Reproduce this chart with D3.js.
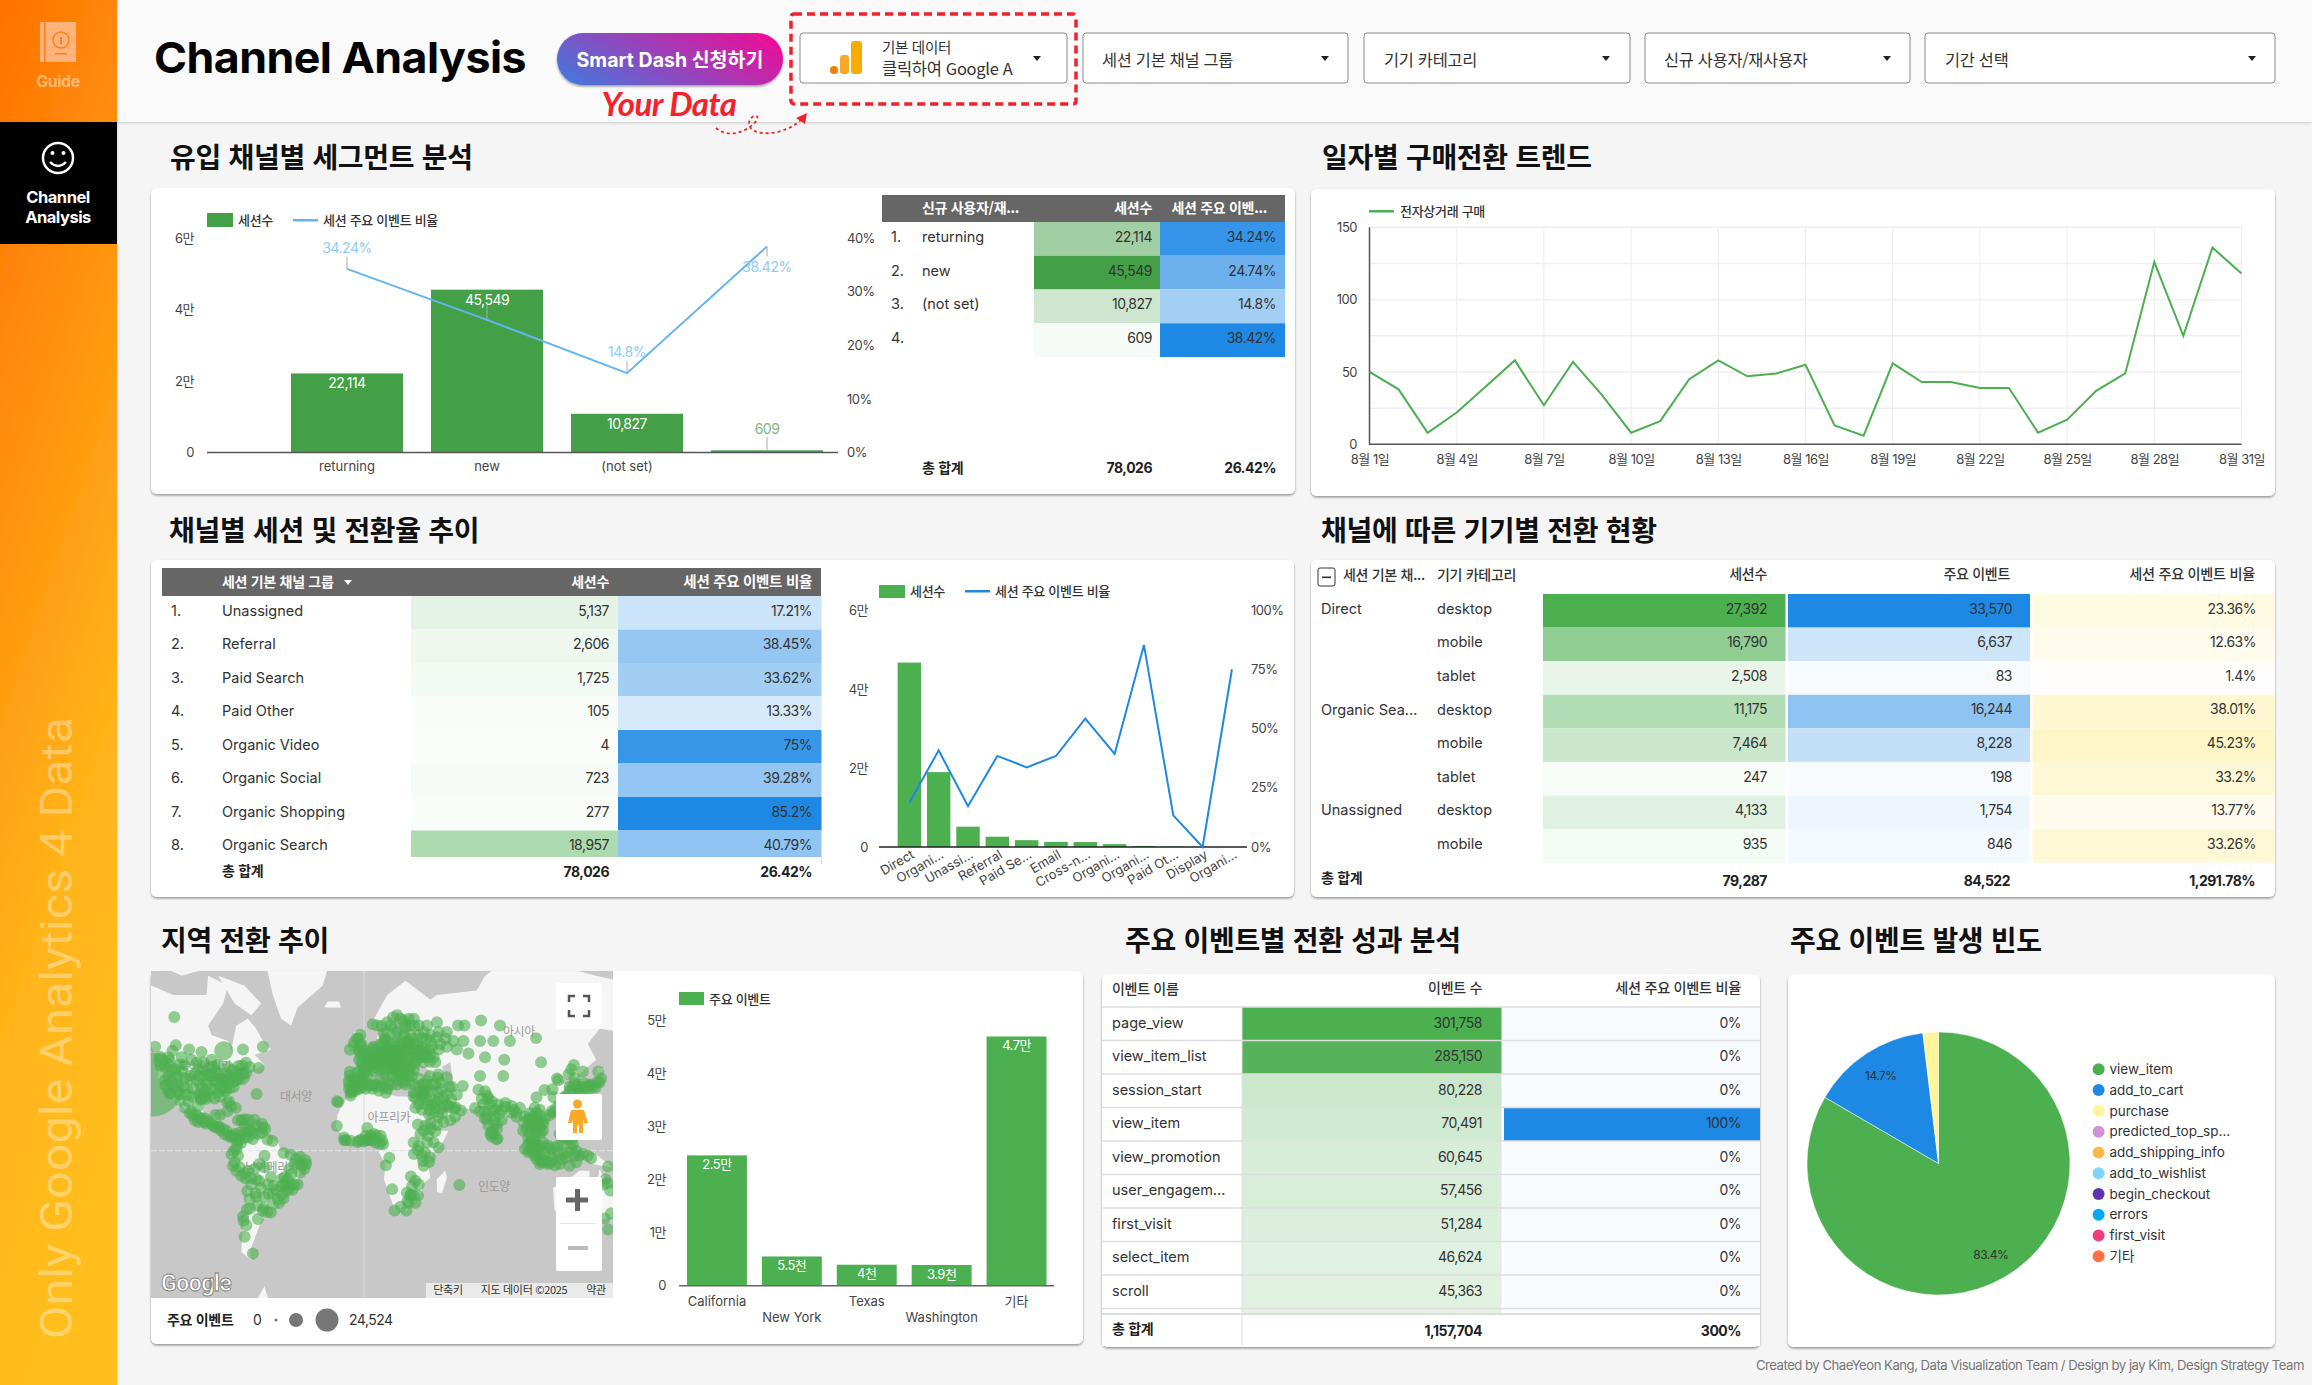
<!DOCTYPE html>
<html lang="ko">
<head>
<meta charset="utf-8">
<title>Channel Analysis</title>
<script src="https://cdn.jsdelivr.net/npm/d3@7"></script>
<style>
  html, body { margin: 0; padding: 0; background: #f5f5f5; overflow: hidden; }
  svg { display: block; }
  text { font-family: Inter, "Noto Sans CJK KR", sans-serif; fill: #333; letter-spacing: -0.5px; }
  .kr { font-family: "Noto Sans CJK KR", sans-serif; letter-spacing: -0.3px; }
  .wide { letter-spacing: 0; }
</style>
</head>
<body>
<div id="chart"></div>
<script>
// ---- data ----
const segmentNames = ['returning', 'new', '(not set)', '']
const segmentSessions = [22114, 45549, 10827, 609]
const segmentRates = [34.24, 24.74, 14.8, 38.42]
const segmentSessionLabels = ['22,114', '45,549', '10,827', '609']
const segmentRateLabels = ['34.24%', '24.74%', '14.8%', '38.42%']
const segmentTotals = ['78,026', '26.42%']

const dayLabels = ['8월 1일', '8월 4일', '8월 7일', '8월 10일', '8월 13일', '8월 16일', '8월 19일', '8월 22일', '8월 25일', '8월 28일', '8월 31일']
const dailyPurchases = [50, 38, 8, 22, 40, 58, 27, 57, 34, 8, 16, 45, 58, 47, 49, 55, 13, 6, 56, 43, 43, 39, 39, 8, 17, 37, 49, 126, 75, 136, 118]

const channelNames = ['Unassigned', 'Referral', 'Paid Search', 'Paid Other', 'Organic Video', 'Organic Social', 'Organic Shopping', 'Organic Search']
const channelSessions = [5137, 2606, 1725, 105, 4, 723, 277, 18957]
const channelRates = [17.21, 38.45, 33.62, 13.33, 75, 39.28, 85.2, 40.79]
const channelSessionLabels = ['5,137', '2,606', '1,725', '105', '4', '723', '277', '18,957']
const channelRateLabels = ['17.21%', '38.45%', '33.62%', '13.33%', '75%', '39.28%', '85.2%', '40.79%']
const channelTotals = ['78,026', '26.42%']

const comboLabels = ['Direct', 'Organi...', 'Unassi...', 'Referral', 'Paid Se...', 'Email', 'Cross-n...', 'Organi...', 'Organi...', 'Paid Ot...', 'Display', 'Organi...']
const comboSessions = [46690, 18957, 5137, 2606, 1725, 1300, 1250, 723, 277, 105, 10, 4]
const comboRates = [18.7, 40.79, 17.21, 38.45, 33.62, 38.4, 54.2, 39.28, 85.2, 13.33, 0, 75]

const deviceGroups = ['Direct', '', '', 'Organic Sea...', '', '', 'Unassigned', '']
const deviceNames = ['desktop', 'mobile', 'tablet', 'desktop', 'mobile', 'tablet', 'desktop', 'mobile']
const deviceSessions = [27392, 16790, 2508, 11175, 7464, 247, 4133, 935]
const deviceEvents = [33570, 6637, 83, 16244, 8228, 198, 1754, 846]
const deviceRates = [23.36, 12.63, 1.4, 38.01, 45.23, 33.2, 13.77, 33.26]
const deviceSessionLabels = ['27,392', '16,790', '2,508', '11,175', '7,464', '247', '4,133', '935']
const deviceEventLabels = ['33,570', '6,637', '83', '16,244', '8,228', '198', '1,754', '846']
const deviceRateLabels = ['23.36%', '12.63%', '1.4%', '38.01%', '45.23%', '33.2%', '13.77%', '33.26%']
const deviceTotals = ['79,287', '84,522', '1,291.78%']

const regionNames = ['California', 'New York', 'Texas', 'Washington', '기타']
const regionEvents = [24524, 5500, 3950, 3900, 46900]
const regionLabels = ['2.5만', '5.5천', '4천', '3.9천', '4.7만']

const eventNames = ['page_view', 'view_item_list', 'session_start', 'view_item', 'view_promotion', 'user_engagem...', 'first_visit', 'select_item', 'scroll', '']
const eventCounts = [301758, 285150, 80228, 70491, 60645, 57456, 51284, 46624, 45363, 41000]
const eventRates = [0, 0, 0, 100, 0, 0, 0, 0, 0, 0]
const eventCountLabels = ['301,758', '285,150', '80,228', '70,491', '60,645', '57,456', '51,284', '46,624', '45,363', '']
const eventRateLabels = ['0%', '0%', '0%', '100%', '0%', '0%', '0%', '0%', '0%', '']
const eventTotals = ['1,157,704', '300%']

const pieShares = [83.4, 14.7, 1.9]
const pieLabels = ['83.4%', '14.7%', '']
const pieLegend = ['view_item', 'add_to_cart', 'purchase', 'predicted_top_sp...', 'add_shipping_info', 'add_to_wishlist', 'begin_checkout', 'errors', 'first_visit', '기타']
const pieColors = ['#4caf50', '#1e88e5', '#fff59d', '#ce93d8', '#ffb74d', '#81d4fa', '#5e35b1', '#03a9f4', '#ec407a', '#ff7043']

// map: cities with their own size, then everything else at the usual size
const bigCities = [[-128, 37, 24524], [-84.6, 51.5, 2200], [-74, 40.7, 1800], [-97.5, 31, 1500], [-122.3, 47.6, 1500]]
const citiesAmericas = [[-114.4, 62.5], [-126, 53], [-115.5, 51.5], [-105.5, 52], [-98, 51], [-73, 52], [-61, 53],
  [-117.2, 47.7], [-116.2, 43.6], [-111.9, 40.8], [-115.1, 36.2], [-112, 33.4], [-110.9, 32.2], [-106.6, 35.1], [-105, 39.7], [-104.8, 41.1], [-108.5, 45.8], [-100.8, 46.8], [-96.8, 46.9], [-96.7, 43.5], [-96, 41.3], [-97.5, 35.5], [-97.7, 30.3], [-96.8, 32.8], [-95.4, 29.8], [-98.5, 29.4], [-90, 35.1], [-90.2, 38.6], [-93.3, 45], [-94.6, 39.1], [-87.6, 41.9], [-86.2, 39.8], [-83, 40], [-83, 42.3], [-84.4, 33.7], [-81.7, 41.5], [-80, 40.4], [-80.8, 35.2], [-78.6, 35.8], [-77, 38.9], [-75.2, 39.9], [-71.1, 42.4], [-79.4, 43.7], [-75.7, 45.4], [-73.6, 45.5], [-71.2, 46.8], [-63.6, 44.6], [-81.4, 28.5], [-80.2, 25.8], [-82.5, 27.9], [-90.1, 30], [-86.8, 36.2], [-85.8, 38.2], [-84.5, 39.1], [-118.2, 34], [-117.1, 32.7], [-119.8, 36.7], [-120, 39], [-122.7, 45.5], [-123, 49.2], [-113.5, 53.5], [-101, 39], [-103, 35], [-100, 32], [-92, 34.7], [-89, 43], [-88, 33],
  [-120, 45], [-118, 41], [-116, 39], [-114, 44], [-111, 46], [-110, 43], [-108, 40], [-109, 36], [-113, 37], [-107, 32], [-104, 31], [-102, 42], [-99, 41], [-99, 37], [-100, 44], [-95, 37], [-92, 41], [-90, 41], [-88, 39], [-91, 45], [-94, 42], [-85, 35], [-82, 38], [-79, 38], [-83, 34], [-87, 31], [-93, 31], [-95, 33], [-77, 41], [-73, 42], [-69, 45], [-76, 43], [-82, 45], [-88, 46], [-92, 48], [-104, 48], [-110, 49], [-118, 49],
  [-117, 32.5], [-110.9, 29], [-106, 28.6], [-100.3, 25.7], [-103.3, 20.7], [-99.1, 19.4], [-98.2, 19], [-96.1, 19.2], [-89.6, 21], [-86.8, 21.1], [-92, 16], [-90.5, 14.6], [-89.2, 13.7], [-87.2, 14.1], [-86.3, 12.1], [-84.1, 9.9], [-79.5, 9], [-76, 18], [-82.4, 23.1], [-77.3, 25], [-69.9, 18.5], [-66.1, 18.4], [-72.3, 18.6], [-61.5, 16], [-61, 14], [-59.6, 13.1], [-61.5, 10.6], [-68, 12.2], [-70, 12.5], [-64.8, 32.3], [-104, 23], [-101, 21], [-97, 17], [-94, 17.5], [-72, 15], [-65, 15], [-74, 18], [-78, 10], [-83, 12],
  [-108, 25], [-105, 22], [-102, 18], [-100, 17], [-95, 16], [-91, 15], [-88, 14.5], [-85, 13], [-82, 9], [-80, 8], [-77, 7], [-75, 9], [-72, 8], [-70, 8], [-67, 7], [-64, 10],
  [-74.1, 4.7], [-75.6, 6.2], [-76.5, 3.4], [-74.8, 10.9], [-66.9, 10.5], [-71.6, 10.6], [-78.5, -0.2], [-79.9, -2.2], [-77, -12], [-71.5, -16.4], [-72, -13.5], [-68.1, -16.5], [-63.2, -17.8], [-58.2, 6.8], [-55.2, 5.8], [-60, -3.1], [-48.5, -1.4], [-44.3, -2.5], [-38.5, -3.7], [-35.2, -5.8], [-34.9, -8], [-38.5, -13], [-49.3, -16.7], [-47.9, -15.8], [-43.9, -19.9], [-43.2, -22.9], [-46.6, -23.5], [-49.3, -25.4], [-48.5, -27.6], [-51.2, -30], [-54.6, -20.5], [-56.1, -15.6], [-57.6, -25.3], [-64.2, -31.4], [-58.4, -34.6], [-56.2, -34.9], [-68.8, -32.9], [-70.6, -33.4], [-73, -36.8], [-72.6, -38.7], [-65.2, -26.8], [-65.4, -24.8], [-70.4, -23.6], [-60.7, -32.9], [-67, -52.6], [-41, -5], [-39, -7.6], [-37, -9], [-36, -11], [-42, -8], [-45, -11], [-40, -20], [-60, -27],
  [-77, 1], [-76, -3], [-78, -7], [-79, -9], [-75, -10], [-74, -15], [-70, -12], [-66, -11], [-68, -20], [-62, -22], [-65, -17], [-58, -20], [-55, -25], [-53, -23], [-50, -21], [-48, -20], [-46, -17], [-44, -14], [-52, -28], [-47, -21], [-45, -22], [-42, -20], [-55, -31], [-61, -34], [-64, -38], [-71, -41], [-72, -46], [-69, -28], [-60, -10], [-63, -8]]
const citiesEurope = [[-6.3, 53.3], [-8.5, 51.9], [-5.9, 54.6], [-3.2, 55.9], [-4.3, 55.9], [-2.2, 57.1], [-1.5, 53.8], [-2.2, 53.5], [-1.9, 52.5], [-0.1, 51.5], [-3.2, 51.5], [-2.6, 51.5],
  [5.3, 60.4], [10.7, 59.9], [18.1, 59.3], [12, 57.7], [13, 55.6], [12.6, 55.7], [24.9, 60.2], [23.8, 61.5], [17.6, 62.4], [14, 61], [20, 63], [27, 62], [30, 62],
  [2.35, 48.85], [4.8, 45.8], [5.4, 43.3], [-1.6, 47.2], [-0.6, 44.8], [1.4, 43.6], [7.3, 47.7], [3, 50.6], [7.7, 48.6], [4.35, 50.85], [4.9, 52.4], [6.1, 49.6], [8.5, 47.4], [6.1, 46.2], [7.6, 47.6],
  [13.4, 52.5], [10, 53.6], [8.7, 50.1], [11.6, 48.1], [6.8, 51.2], [9.2, 48.8], [12.4, 51.3], [14.4, 50.1], [16.4, 48.2], [19, 47.5], [21, 52.2], [19.9, 50.1], [17, 51.1], [18.6, 54.4], [24.1, 56.9], [25.3, 54.7], [24.8, 59.4], [27.6, 53.9], [30.5, 50.4], [36.2, 50], [34.8, 50.9], [30.7, 46.5], [28.8, 47], [26.1, 44.4], [23.3, 42.7], [20.5, 44.8], [18.4, 43.9], [16, 45.8], [14.5, 46.1], [19.8, 41.3], [21.4, 42], [22.9, 40.6], [23.7, 38], [12.5, 41.9], [9.2, 45.5], [11.3, 43.8], [14.3, 40.9], [16.9, 41.1], [15.1, 37.5], [9.1, 39.2], [-3.7, 40.4], [2.2, 41.4], [-0.4, 39.5], [-6, 37.4], [-4.4, 36.7], [-8.6, 41.1], [-9.1, 38.7], [-8.5, 42.9], [-3, 43.3], [-1, 41.6],
  [37.6, 55.8], [30.3, 59.9], [49.1, 55.8], [44, 56.3], [39.7, 47.2], [39.2, 51.7], [33, 57], [28, 57], [41, 53], [45, 52], [50, 53], [35, 53], [26, 52], [22, 49], [25, 47], [28, 50], [32, 48], [36, 47], [43, 47], [12, 50], [15, 53], [20, 56], [23, 53], [8, 52], [10, 51], [5, 47], [2, 46], [0, 42], [17, 45], [20, 43], [24, 45], [27, 42],
  [-7, 40], [-5, 42], [-2, 39], [-6, 39], [1, 44], [3, 45], [-1, 46], [1, 48], [5, 49], [3, 48], [-3, 48], [-2, 50], [0, 50], [7, 50], [9, 49], [11, 46], [13, 44], [15, 47], [12, 47], [18, 49], [20, 50], [22, 51], [24, 50], [26, 48], [29, 49], [31, 52], [33, 50], [35, 49], [37, 52], [38, 49], [40, 50], [42, 49], [21, 47], [22, 45], [19, 46], [25, 43], [28, 45], [30, 44], [24, 41], [26, 41], [21, 39], [17, 47], [16, 50], [18, 52], [14, 55], [20, 58], [24, 57], [27, 55], [30, 56], [36, 58], [40, 57], [45, 58], [50, 58], [30, 54], [35, 56], [40, 55], [46, 54], [54, 55], [56, 52], [60, 55], [14, 58], [16, 60], [8, 60], [22, 62], [28, 60], [33, 60], [38, 60], [44, 61],
  [10, 54], [12, 54], [14, 51], [16, 52], [18, 50], [20, 53], [22, 54], [24, 52], [26, 54], [28, 54], [30, 52], [32, 54], [34, 52], [6, 53], [8, 49], [10, 48], [13, 49], [15, 49], [17, 49], [19, 51], [21, 50], [23, 48], [7, 45], [9, 44], [13, 46], [18, 45], [21, 44], [-4, 37.5], [-2, 37], [0, 37], [3, 37], [5, 36.5], [8, 36], [12, 36], [14, 35], [17, 37], [20, 37], [25, 37], [-9, 37], [-7, 36], [-5, 35.5], [-3, 35], [1, 35], [5, 35], [9, 34], [-9, 35], [-8, 33]]
const citiesAsiaMiddleEast = [[56.7, 60], [60.6, 60], [70.6, 61.5], [82, 60], [103.8, 56], [88, 55], [78, 55], [70, 55], [63, 50.5], [84.6, 48], [106.8, 47], [70, 41], [84, 41], [73, 49],
  [28.9, 41], [32.9, 39.9], [27.1, 38.4], [30.7, 36.9], [35.3, 37], [39.7, 41], [44.8, 41.7], [49.9, 40.4], [44.5, 40.2], [51.4, 35.7], [46.3, 38.1], [52.5, 29.6], [59.6, 36.3], [44.4, 33.3], [47.8, 30.5], [36.3, 33.5], [35.5, 33.9], [34.8, 32.1], [35.9, 31.9], [46.7, 24.7], [39.2, 21.5], [50.6, 26.2], [51.5, 25.3], [54.4, 24.5], [55.3, 25.2], [58.4, 23.6], [44.2, 15.4], [41, 37], [38, 39], [42, 29], [45, 20], [48, 17], [52, 18], [40, 16],
  [33, 36], [37, 37], [43, 37], [47, 35], [50, 32], [53, 36], [56, 32], [48, 26], [43, 25], [40, 24], [37, 27], [55, 20], [33, 27], [31, 25], [45, 30], [38, 33], [41, 34], [30, 33], [35, 30], [38, 29], [41, 27], [44, 28], [47, 22], [35, 24], [42, 22],
  [67, 24.9], [74.3, 31.5], [73, 33.7], [77.2, 28.6], [75.8, 26.9], [72.6, 23], [72.9, 19.1], [73.9, 18.5], [78.5, 17.4], [77.6, 13], [80.3, 13.1], [76.9, 11], [76.3, 10], [76.9, 8.5], [81.6, 21.3], [77.4, 23.3], [80.9, 26.8], [85.1, 25.6], [88.4, 22.6], [85.3, 27.7], [90.4, 23.8], [91.8, 22.3], [79.9, 6.9], [80.6, 7.3], [69, 34.5], [71, 30], [79, 20], [75, 15],
  [92, 20], [94, 25], [89, 26], [83, 24], [83, 18], [80, 16], [78, 10], [74, 21], [70, 23], [72, 27], [75, 30], [79, 24],
  [96.2, 16.8], [100.5, 13.8], [98.9, 18.8], [102.6, 18], [104.9, 11.6], [105.8, 21], [108.2, 16], [106.7, 10.8], [101.7, 3.1], [100.3, 5.4], [103.8, 1.35], [110.3, 1.5], [98.7, 3.6], [104.8, -2.9], [106.8, -6.2], [107.6, -6.9], [110.4, -7], [112.7, -7.3], [115.2, -8.7], [116.8, -1.2], [119.4, -5.1], [125, 1.5], [120.9, 14.6], [121, 16], [123.9, 10.3], [125.6, 7.1], [114.2, 22.3], [113.3, 23.1], [121.5, 25], [99, 8], [102, 15], [104, 18], [106, 14], [100, 0], [102, -1], [113, -3], [115, 2], [118, -8], [122, -4], [124, -9], [137, -4.5], [130, -3], [128, 0], [103, 9], [108, 12], [111, 3],
  [97, 20], [96, 12], [99, 15], [101, 17], [104, 14], [107, 17], [109, 19], [112, 21], [116, 25], [118, 27], [101, 7], [103, 4], [106, 3], [109, -1], [104, -5], [106, -3], [109, -6], [113, 1], [117, 3], [120, -2], [123, -1], [119, 5], [121, 8], [118, 10], [123, 7], [126, 4], [127, -3], [132, -2], [135, -3], [128, -7], [111, -8], [114, -5], [97, 1], [99, -1],
  [100, 22], [103, 25], [106, 24], [102, 20], [105, 16], [100, 11], [103, 6], [105, 1], [101, 2], [103, -3], [106, -8], [108, 5], [100, 19], [98, 13], [104, 22],
  [121.5, 31.2], [116.4, 39.9], [126.9, 37.5], [129, 35.2], [139.7, 35.7], [135.5, 34.7], [130.4, 33.6], [141.3, 43], [114.3, 30.6], [104, 30.6], [108.9, 34.3], [113.6, 34.7], [120.2, 30.3], [117.2, 39.1], [123.4, 41.8], [126.6, 45.8], [132, 43], [127, 40], [137, 37], [140.9, 38.3], [133, 34.5], [125, 44],
  [124, 36], [126, 35], [128, 36.5], [131, 36], [134, 36], [136, 36.5], [138, 36], [142, 38], [143, 40], [133, 37.5], [124, 34]]
const citiesAfricaOceania = [[-7.6, 33.6], [-5, 34], [-6.8, 34], [-8, 31.6], [3, 36.7], [10.2, 36.8], [13.2, 32.9], [-1, 35.7], [7, 36.9], [-15.4, 28.1], [-16.3, 28.5], [-16.4, 14.7], [-11.8, 6.3], [-10.8, 6.3], [-8, 6], [-4, 5.3], [-3, 6], [-1.6, 6.7], [-0.2, 5.6], [1.2, 6.1], [2.4, 6.4], [3.4, 6.5], [3.9, 7.4], [5.6, 6.3], [7, 4.8], [7.5, 9.1], [9.7, 4], [11.5, 3.9], [2, 13.5], [13.2, -8.8], [15.3, -4.3], [28.3, -15.4], [31, -17.8], [32.6, -26], [28, -26.2], [28.2, -25.7], [31, -29.9], [18.4, -33.9], [25.6, -34], [26.2, -29.1], [17, -22.6], [25.9, -24.6], [57.5, -20.2], [31.2, 30], [29.9, 31.2], [32.5, 15.6], [38.7, 9], [45, 2], [36.8, -1.3], [39.7, -4], [32.6, 0.3], [30.1, -2], [39.3, -6.8], [35.7, -6.2], [43, 11.6], [40, 13], [37, 15], [42, 5], [34, 10], [30, 5], [33, 3],
  [6, 10], [10, 9], [1, 9], [4, 9], [11, 6], [-12, 8], [36, 12], [38, 5], [35, -3], [36, -9], [33, -20], [29, -21], [30, -26], [27, -30], [22, -32],
  [147.2, -9.5], [145.8, -16.9], [146.8, -19.3], [149, -35.3], [145, -37.8], [147.3, -42.9], [148.5, -23.4], [144.5, -20]]

// map: rough land outlines [lon, lat], only for the grey and white background
const landOutlines = [
  [[-168, 66], [-156, 71], [-140, 70], [-128, 70], [-115, 68], [-95, 68], [-94, 72], [-82, 70], [-85, 66], [-94, 60], [-92, 57], [-82, 55], [-80, 51], [-79, 55], [-77, 60], [-70, 62], [-65, 59], [-60, 54], [-56, 52], [-66, 50], [-60, 46], [-66, 44], [-70, 43], [-74, 40], [-76, 36], [-81, 31], [-80, 25], [-82, 27], [-84, 30], [-90, 29], [-97, 27], [-97, 22], [-95, 18], [-91, 18], [-90, 21], [-87, 21], [-88, 16], [-83, 15], [-83, 10], [-79, 9], [-77, 8], [-80, 7], [-85, 10], [-92, 15], [-96, 16], [-105, 20], [-109, 25], [-113, 31], [-110, 23], [-115, 30], [-120, 34], [-124, 40], [-124, 48], [-130, 55], [-140, 60], [-150, 60], [-160, 58], [-165, 62]],
  [[-73, 78], [-60, 82], [-30, 83], [-20, 75], [-25, 70], [-40, 65], [-44, 60], [-50, 62], [-55, 68], [-60, 75]],
  [[-125, 74], [-100, 76], [-85, 80], [-65, 82], [-85, 74], [-110, 72]],
  [[-72, 70], [-62, 66], [-68, 63], [-78, 66], [-88, 72]],
  [[-78, 8], [-72, 12], [-62, 10.5], [-52, 5], [-50, 0], [-44, -2.5], [-35, -6], [-39, -14], [-41, -22], [-48, -26], [-53, -33], [-58, -35], [-62, -39], [-65, -45], [-69, -52], [-68, -55], [-74, -52], [-73, -40], [-71, -30], [-70, -18], [-76, -14], [-81, -5], [-80, 1], [-77, 4]],
  [[-6, 35.8], [10, 37], [11, 33], [20, 31], [32, 31], [35, 28], [37, 21], [43, 12], [51, 12], [47, 4], [40, -3], [39, -10], [40, -16], [35, -20], [35, -24], [32, -28], [26, -34], [19, -34.5], [15, -25], [12, -17], [13, -8], [9, -1], [9, 4], [4, 6], [-4, 5], [-8, 4.5], [-13, 9], [-17, 14], [-16, 21], [-13, 27], [-9, 32]],
  [[49, -12], [50, -16], [47, -25], [44, -24], [44, -17]],
  [[-9, 37], [-9, 43], [-1, 44], [-4, 48], [2, 51], [8, 54], [8, 57], [11, 54], [20, 54.5], [24, 59], [30, 60], [22, 60], [21, 64], [25, 66], [18, 62], [18, 59], [13, 55.5], [11, 59], [5, 59], [6, 62], [14, 68], [25, 71], [40, 67], [44, 68], [68, 69], [73, 72], [100, 77], [113, 74], [140, 72], [180, 69], [180, 65], [163, 60], [156, 51], [155, 58], [142, 59], [135, 54], [140, 48], [130, 42], [127, 39], [129, 35], [126, 34.5], [125, 39], [121, 40], [118, 38], [122, 37], [120, 32], [122, 29], [116, 23], [108, 21], [106, 18], [109, 12], [105, 9], [100, 13], [103, 2], [100, 6], [98, 10], [97, 16], [94, 16], [92, 21], [88, 22], [80, 15], [80, 10], [77, 8], [73, 17], [72, 21], [67, 24], [58, 25], [56, 27], [50, 30], [48, 30], [51, 25], [56, 25], [59, 22], [52, 16], [44, 12.5], [39, 21], [35, 28], [35, 36], [28, 36.5], [26, 39], [23, 37], [20, 40], [14, 45], [18, 40], [16, 38], [12, 42], [8, 44], [3, 42], [0, 39], [-2, 37], [-5, 36]],
  [[-5, 50], [1, 51], [1, 53], [-2, 56], [-3, 58.5], [-6, 58], [-5, 54], [-5, 52]],
  [[-10, 52], [-6, 52], [-6, 55], [-9, 55]],
  [[-24, 65], [-14, 65], [-15, 66.5], [-22, 66.5]],
  [[130, 31], [136, 34], [141, 36], [141, 41], [145, 44], [141, 45], [139, 38], [132, 35]],
  [[95, 5], [104, -2], [106, -6], [101, -3]],
  [[109, 1], [117, 7], [119, 1], [115, -4], [110, -3]],
  [[105, -6.5], [115, -8], [114, -8.8], [106, -7.5]],
  [[119, -5], [120, 1], [125, 1], [122, -4]],
  [[131, -1], [141, -3], [150, -10], [143, -9], [138, -8]],
  [[120, 18], [122, 18], [124, 12], [126, 7], [122, 7], [120, 14]],
  [[114, -22], [122, -18], [130, -12], [136, -12], [136, -16], [141, -17], [142, -11], [146, -18], [153, -26], [150, -37], [144, -38], [138, -35], [131, -32], [124, -33], [115, -34]],
  [[-70, -70], [-60, -63], [-55, -70]]
]
const inlandSeas = [
  [[28, 42], [28, 46], [33, 46], [37, 45], [41, 42], [36, 41], [31, 41]],
  [[50, 37], [49, 41], [47, 45], [52, 47], [53, 42], [54, 37]]
]
const mapPlaceNames = [['아시아', 519, 1032], ['대서양', 296, 1097], ['아프리카', 389, 1118], ['인도양', 494, 1187], ['남아메리카', 272, 1168], ['북아메리카', 205, 1067]]

// ---- page ----
const svg = d3.select('#chart').append('svg').attr('width', 2312).attr('height', 1385)
const defs = svg.append('defs')

const side = defs.append('linearGradient').attr('id', 'side').attr('x1', 0).attr('x2', 0.25).attr('y1', 0).attr('y2', 1)
side.append('stop').attr('offset', '0%').attr('stop-color', '#ff7100')
side.append('stop').attr('offset', '72%').attr('stop-color', '#ffb41a')
side.append('stop').attr('offset', '100%').attr('stop-color', '#ffbe1d')

const btn = defs.append('linearGradient').attr('id', 'btn').attr('x1', 0).attr('x2', 1).attr('y1', 0.7).attr('y2', 0.3)
btn.append('stop').attr('offset', '0%').attr('stop-color', '#4d72d9')
btn.append('stop').attr('offset', '100%').attr('stop-color', '#e8109a')

const shadow = defs.append('filter').attr('id', 'shadow').attr('x', '-5%').attr('y', '-5%').attr('width', '110%').attr('height', '112%')
shadow.append('feDropShadow').attr('dx', 0).attr('dy', 1.5).attr('stdDeviation', 1.2).attr('flood-color', '#000').attr('flood-opacity', 0.4)
const softShadow = defs.append('filter').attr('id', 'softShadow').attr('x', '-5%').attr('y', '-5%').attr('width', '110%').attr('height', '112%')
softShadow.append('feDropShadow').attr('dx', 0).attr('dy', 1).attr('stdDeviation', 1.5).attr('flood-color', '#000').attr('flood-opacity', 0.18)

defs.append('clipPath').attr('id', 'mapClip').append('rect').attr('x', 151).attr('y', 971).attr('width', 462).attr('height', 327)
defs.append('clipPath').attr('id', 'ddClip').append('rect').attr('x', 880).attr('y', 36).attr('width', 134).attr('height', 46)

function label(parent, x, y, s, opt) {
  opt = opt || {}
  return parent.append('text')
    .attr('x', x).attr('y', y)
    .attr('dy', '0.35em')
    .attr('text-anchor', opt.anchor || 'start')
    .attr('font-size', opt.size || 14)
    .attr('font-weight', opt.weight || 400)
    .style('fill', opt.fill || '#333')
    .text(s)
}

function card(x, y, w, h) {
  svg.append('rect').attr('x', x).attr('y', y).attr('width', w).attr('height', h)
    .attr('rx', 6).attr('fill', '#fff').attr('filter', 'url(#shadow)')
}

// white to color, with a small floor so even tiny cells get a tint
function shade(color, max) {
  const mix = d3.interpolateRgb('#ffffff', color)
  return v => mix(0.03 + 0.97 * v / max)
}

// one table column: filled cells and right aligned or left aligned text
function column(parent, rowScale, cfg) {
  const shift = cfg.shift === undefined ? -2 : cfg.shift
  if (cfg.fill) {
    parent.append('g').selectAll('rect').data(cfg.values).enter().append('rect')
      .attr('x', cfg.x).attr('width', cfg.w)
      .attr('y', (d, i) => rowScale(i))
      .attr('height', rowScale.bandwidth())
      .attr('fill', d => cfg.fill(d))
  }
  parent.append('g').selectAll('text').data(cfg.labels).enter().append('text')
    .attr('class', cfg.fill ? null : 'wide')
    .attr('x', cfg.textX)
    .attr('y', (d, i) => rowScale(i) + rowScale.bandwidth() / 2 + shift)
    .attr('dy', '0.35em')
    .attr('text-anchor', cfg.anchor || 'end')
    .attr('font-size', cfg.fill ? 14 : 14.5)
    .text(d => d)
}

function styleAxis(g, size) {
  g.attr('font-family', null).attr('font-size', null)
  g.select('.domain').remove()
  g.selectAll('.tick line').remove()
  g.selectAll('text').attr('font-size', size || 13).style('fill', '#444')
}

// ---- sidebar and header ----
svg.append('rect').attr('x', 117).attr('width', 2195).attr('height', 122).attr('fill', '#fafafa').attr('filter', 'url(#softShadow)')
svg.append('rect').attr('width', 117).attr('height', 1385).attr('fill', 'url(#side)').attr('filter', 'url(#softShadow)')
svg.append('rect').attr('y', 122).attr('width', 117).attr('height', 122).attr('fill', '#000')

svg.append('rect').attr('x', 40).attr('y', 22).attr('width', 36).attr('height', 40).attr('fill', '#ffb27a')
svg.append('rect').attr('x', 44).attr('y', 22).attr('width', 1.5).attr('height', 40).attr('fill', '#ff7f20')
svg.append('circle').attr('cx', 61).attr('cy', 40).attr('r', 8).attr('fill', 'none').attr('stroke', '#ff7f20').attr('stroke-width', 1.5)
svg.append('rect').attr('x', 60).attr('y', 37).attr('width', 2).attr('height', 7).attr('fill', '#ff7f20')
svg.append('rect').attr('x', 55).attr('y', 53).attr('width', 12).attr('height', 1.5).attr('fill', '#ff7f20')
label(svg, 58, 81, 'Guide', { anchor: 'middle', size: 16, weight: 700, fill: 'rgba(255,255,255,0.45)' })

svg.append('circle').attr('cx', 58).attr('cy', 158).attr('r', 15).attr('fill', 'none').attr('stroke', '#fff').attr('stroke-width', 2.5)
svg.append('circle').attr('cx', 52.5).attr('cy', 153).attr('r', 2).attr('fill', '#fff')
svg.append('circle').attr('cx', 63.5).attr('cy', 153).attr('r', 2).attr('fill', '#fff')
svg.append('path').attr('d', 'M50,162 Q58,170 66,162').attr('fill', 'none').attr('stroke', '#fff').attr('stroke-width', 2.2)
label(svg, 58, 197, 'Channel', { anchor: 'middle', size: 16.5, weight: 700, fill: '#fff' })
label(svg, 58, 217, 'Analysis', { anchor: 'middle', size: 16.5, weight: 700, fill: '#fff' })
svg.append('text').attr('transform', 'translate(72,1339) rotate(-90)')
  .attr('font-size', 44).attr('textLength', 622).attr('lengthAdjust', 'spacingAndGlyphs')
  .style('font-family', 'Roboto').style('letter-spacing', '0').style('fill', 'rgba(255,255,255,0.36)')
  .text('Only Google Analytics 4 Data')

label(svg, 154, 58, 'Channel Analysis', { size: 43, weight: 700, fill: '#000' }).attr('textLength', 372).attr('lengthAdjust', 'spacingAndGlyphs')

svg.append('rect').attr('x', 557).attr('y', 33).attr('width', 226).attr('height', 52).attr('rx', 26).attr('fill', 'url(#btn)').attr('filter', 'url(#shadow)')
label(svg, 670, 60, 'Smart Dash 신청하기', { anchor: 'middle', size: 19.5, weight: 700, fill: '#fff' }).attr('class', 'wide')
label(svg, 669, 104, 'Your Data', { anchor: 'middle', size: 33, weight: 700, fill: '#f5222d' }).style('font-family', 'Lato').style('font-style', 'italic')
svg.append('rect').attr('x', 791).attr('y', 14).attr('width', 285).attr('height', 90).attr('rx', 3)
  .attr('fill', 'none').attr('stroke', '#f0212e').attr('stroke-width', 3.5).attr('stroke-dasharray', '8 5')
svg.append('path').attr('d', 'M716,128 C730,140 750,130 757,120 C760,113 749,115 749,124 C751,138 785,136 802,119')
  .attr('fill', 'none').attr('stroke', '#f0212e').attr('stroke-width', 1.8).attr('stroke-dasharray', '3 3')
svg.append('path').attr('d', 'M807,113 L796,118 L805,124 Z').attr('fill', '#f0212e')

// filters
const dropdowns = [
  { x: 800, w: 267, arrow: 1037 },
  { x: 1083, w: 265, text: '세션 기본 채널 그룹', textX: 1102, arrow: 1325 },
  { x: 1364, w: 266, text: '기기 카테고리', textX: 1384, arrow: 1606 },
  { x: 1645, w: 265, text: '신규 사용자/재사용자', textX: 1664, arrow: 1887 },
  { x: 1925, w: 350, text: '기간 선택', textX: 1945, arrow: 2252 }
]
dropdowns.forEach(d => {
  svg.append('rect').attr('x', d.x).attr('y', 33).attr('width', d.w).attr('height', 50).attr('rx', 3)
    .attr('fill', '#fff').attr('stroke', '#8a8a8a').attr('stroke-width', 1)
  svg.append('path').attr('d', `M${d.arrow - 4},56 h8 l-4,5 z`).attr('fill', '#222')
  if (d.text) label(svg, d.textX, 60, d.text, { size: 16.4 }).attr('class', 'kr')
})
svg.append('circle').attr('cx', 834).attr('cy', 70).attr('r', 4).attr('fill', '#f57c00')
svg.append('rect').attr('x', 840).attr('y', 55).attr('width', 9).attr('height', 19).attr('rx', 3).attr('fill', '#f9a825')
svg.append('rect').attr('x', 851).attr('y', 41).attr('width', 11).attr('height', 33).attr('rx', 3).attr('fill', '#f9ab00')
label(svg, 882, 48, '기본 데이터', { size: 14.5 }).attr('class', 'kr')
label(svg, 882, 69, '클릭하여 Google Analytics', { size: 16.5 }).attr('class', 'kr').attr('clip-path', 'url(#ddClip)')

// section titles
const titles = [
  ['유입 채널별 세그먼트 분석', 170, 158], ['일자별 구매전환 트렌드', 1322, 158],
  ['채널별 세션 및 전환율 추이', 169, 531], ['채널에 따른 기기별 전환 현황', 1321, 531],
  ['지역 전환 추이', 161, 941], ['주요 이벤트별 전환 성과 분석', 1125, 941], ['주요 이벤트 발생 빈도', 1790, 941]
]
titles.forEach(t => label(svg, t[1], t[2], t[0], { size: 28, weight: 700, fill: '#111' }).attr('class', 'kr'))

// ---- segment combo chart ----
card(151, 188, 1144, 306)
const segX = d3.scaleBand().domain(segmentNames).range([277, 837]).paddingInner(0.2).paddingOuter(0.1)
const segY = d3.scaleLinear().domain([0, 60000]).range([452.5, 238])
const segY2 = d3.scaleLinear().domain([0, 40]).range([452.5, 238])

svg.append('g').attr('transform', 'translate(194,0)')
  .call(d3.axisLeft(segY).tickValues([0, 20000, 40000, 60000]).tickSize(0).tickPadding(0).tickFormat(d => d ? d / 10000 + '만' : '0'))
  .call(styleAxis)
svg.append('g').attr('transform', 'translate(847,0)')
  .call(d3.axisRight(segY2).tickValues([0, 10, 20, 30, 40]).tickSize(0).tickPadding(0).tickFormat(d => d + '%'))
  .call(styleAxis)
svg.append('g').attr('transform', 'translate(0,452.5)')
  .call(d3.axisBottom(segX).tickSize(0).tickPadding(9))
  .call(styleAxis)
  .selectAll('text').attr('class', 'wide')

svg.append('g').selectAll('rect').data(segmentSessions).enter().append('rect')
  .attr('x', (d, i) => segX(segmentNames[i]))
  .attr('y', d => segY(d))
  .attr('width', segX.bandwidth())
  .attr('height', d => segY(0) - segY(d))
  .attr('fill', '#43a047')
svg.append('line').attr('x1', 207).attr('x2', 838).attr('y1', 452.5).attr('y2', 452.5).attr('stroke', '#555').attr('stroke-width', 1.5)

// leader lines of the data labels
const segCenter = i => segX(segmentNames[i]) + segX.bandwidth() / 2
const segLeaders = svg.append('g').attr('stroke', '#aaa').attr('stroke-width', 1)
segmentRates.forEach((r, i) => {
  if (i === 3) return
  segLeaders.append('line').attr('x1', segCenter(i)).attr('x2', segCenter(i)).attr('y1', segY2(r)).attr('y2', segY2(r) - (i === 1 ? 15 : 12))
})
segLeaders.append('line').attr('x1', segCenter(3)).attr('x2', segCenter(3)).attr('y1', segY2(38.42)).attr('y2', segY2(38.42) + 10)
segLeaders.append('line').attr('x1', segCenter(3)).attr('x2', segCenter(3)).attr('y1', 437).attr('y2', 451)

svg.append('path').datum(segmentRates)
  .attr('fill', 'none').attr('stroke', '#64b5f6').attr('stroke-width', 2)
  .attr('d', d3.line().x((d, i) => segCenter(i)).y(d => segY2(d)))

segmentSessionLabels.forEach((s, i) => {
  const inside = i < 3
  label(svg, segCenter(i), inside ? segY(segmentSessions[i]) + 10 : 429, s, { anchor: 'middle', size: 14, fill: inside ? '#fff' : '#7cb87f' })
})
label(svg, segCenter(0), 248, segmentRateLabels[0], { anchor: 'middle', size: 14, fill: '#90caf9' })
label(svg, segCenter(2), 352, segmentRateLabels[2], { anchor: 'middle', size: 14, fill: '#90caf9' })
label(svg, segCenter(3), 267, segmentRateLabels[3], { anchor: 'middle', size: 14, fill: '#90caf9' })

svg.append('rect').attr('x', 207).attr('y', 213).attr('width', 26).attr('height', 14).attr('fill', '#43a047')
label(svg, 238, 220, '세션수', { size: 13, weight: 500 }).attr('class', 'kr')
svg.append('rect').attr('x', 293).attr('y', 219).attr('width', 25).attr('height', 2.5).attr('fill', '#64b5f6')
label(svg, 323, 220, '세션 주요 이벤트 비율', { size: 13, weight: 500 }).attr('class', 'kr')

// segment table
const segRows = d3.scaleBand().domain(d3.range(4)).range([222, 357])
svg.append('rect').attr('x', 882).attr('y', 195).attr('width', 403).attr('height', 27).attr('fill', '#666')
label(svg, 922, 208, '신규 사용자/재...', { size: 14, weight: 700, fill: '#fff' }).attr('class', 'kr')
label(svg, 1152, 208, '세션수', { size: 14, weight: 700, fill: '#fff', anchor: 'end' }).attr('class', 'kr')
label(svg, 1267, 208, '세션 주요 이벤...', { size: 14, weight: 700, fill: '#fff', anchor: 'end' }).attr('class', 'kr')
column(svg, segRows, { labels: segmentNames.map((d, i) => (i + 1) + '.'), textX: 891, anchor: 'start' })
column(svg, segRows, { labels: segmentNames, textX: 922, anchor: 'start' })
column(svg, segRows, { x: 1034, w: 126, values: segmentSessions, fill: shade('#43a047', 45549), labels: segmentSessionLabels, textX: 1152 })
column(svg, segRows, { x: 1160, w: 125, values: segmentRates, fill: shade('#1e88e5', 38.42), labels: segmentRateLabels, textX: 1276 })
label(svg, 922, 468, '총 합계', { size: 14, weight: 700, fill: '#222' }).attr('class', 'kr')
label(svg, 1152, 468, segmentTotals[0], { size: 14, weight: 700, fill: '#222', anchor: 'end' })
label(svg, 1276, 468, segmentTotals[1], { size: 14, weight: 700, fill: '#222', anchor: 'end' })

// ---- daily trend ----
card(1311, 189, 964, 307)
const dayX = d3.scaleLinear().domain([1, 31]).range([1369.5, 2241.5])
const dayY = d3.scaleLinear().domain([0, 150]).range([444.3, 227.3])
const dayTicks = d3.range(1, 32, 3)

svg.append('g').selectAll('line').data(dayTicks).enter().append('line')
  .attr('x1', d => dayX(d)).attr('x2', d => dayX(d)).attr('y1', dayY(150)).attr('y2', dayY(0))
  .attr('stroke', '#ececec')
svg.append('g').selectAll('line').data(d3.range(25, 151, 25)).enter().append('line')
  .attr('x1', dayX(1)).attr('x2', dayX(31)).attr('y1', d => dayY(d)).attr('y2', d => dayY(d))
  .attr('stroke', '#efefef').attr('stroke-width', 1.5)
svg.append('g').attr('transform', 'translate(1357,0)')
  .call(d3.axisLeft(dayY).tickValues([0, 50, 100, 150]).tickSize(0).tickPadding(0))
  .call(styleAxis)
svg.append('g').attr('transform', 'translate(0,455)')
  .call(d3.axisBottom(dayX).tickValues(dayTicks).tickSize(0).tickPadding(0).tickFormat((d, i) => dayLabels[i]))
  .call(styleAxis)
svg.append('path').attr('d', `M${dayX(1)},${dayY(150)} V${dayY(0)} H${dayX(31)}`).attr('fill', 'none').attr('stroke', '#555').attr('stroke-width', 1.5)
svg.append('path').datum(dailyPurchases)
  .attr('fill', 'none').attr('stroke', '#4caf50').attr('stroke-width', 2)
  .attr('d', d3.line().x((d, i) => dayX(i + 1)).y(d => dayY(d)))
svg.append('rect').attr('x', 1369).attr('y', 210).attr('width', 25).attr('height', 2.5).attr('fill', '#4caf50')
label(svg, 1400, 211, '전자상거래 구매', { size: 13, weight: 500 }).attr('class', 'kr')

// ---- channel table and combo ----
card(151, 560, 1143, 337)
const chRows = d3.scaleBand().domain(d3.range(8)).range([596, 864])
svg.append('rect').attr('x', 162).attr('y', 568).attr('width', 659).attr('height', 28).attr('fill', '#666')
label(svg, 222, 582, '세션 기본 채널 그룹', { size: 14, weight: 700, fill: '#fff' }).attr('class', 'kr')
svg.append('path').attr('d', 'M344,580 h8 l-4,5 z').attr('fill', '#fff')
label(svg, 609, 582, '세션수', { size: 14, weight: 700, fill: '#fff', anchor: 'end' }).attr('class', 'kr')
label(svg, 812, 582, '세션 주요 이벤트 비율', { size: 14.5, weight: 700, fill: '#fff', anchor: 'end' }).attr('class', 'kr')
column(svg, chRows, { labels: channelNames.map((d, i) => (i + 1) + '.'), textX: 171, anchor: 'start' })
column(svg, chRows, { labels: channelNames, textX: 222, anchor: 'start' })
column(svg, chRows, { x: 411, w: 207, values: channelSessions, fill: shade('#4caf50', 43000), labels: channelSessionLabels, textX: 609 })
column(svg, chRows, { x: 618, w: 203.5, values: channelRates, fill: shade('#1e88e5', 85.2), labels: channelRateLabels, textX: 812 })
// footer row covers the bottom of the clipped last row
svg.append('rect').attr('x', 162).attr('y', 857).attr('width', 659).attr('height', 30).attr('fill', '#fff')
label(svg, 222, 871, '총 합계', { size: 14, weight: 700, fill: '#222' }).attr('class', 'kr')
label(svg, 609, 872, channelTotals[0], { size: 14, weight: 700, fill: '#222', anchor: 'end' })
label(svg, 812, 872, channelTotals[1], { size: 14, weight: 700, fill: '#222', anchor: 'end' })

const comboX = d3.scaleBand().domain(d3.range(12)).range([894.7, 1246.6]).paddingInner(0.2).paddingOuter(0.1)
const comboY = d3.scaleLinear().domain([0, 60000]).range([847, 610])
const comboY2 = d3.scaleLinear().domain([0, 100]).range([847, 610])
const comboCenter = i => comboX(i) + comboX.bandwidth() / 2

svg.append('g').attr('transform', 'translate(868,0)')
  .call(d3.axisLeft(comboY).tickValues([0, 20000, 40000, 60000]).tickSize(0).tickPadding(0).tickFormat(d => d ? d / 10000 + '만' : '0'))
  .call(styleAxis)
svg.append('g').attr('transform', 'translate(1251,0)')
  .call(d3.axisRight(comboY2).tickValues([0, 25, 50, 75, 100]).tickSize(0).tickPadding(0).tickFormat(d => d + '%'))
  .call(styleAxis)
svg.append('g').attr('transform', 'translate(0,847)')
  .call(d3.axisBottom(comboX).tickSize(0).tickPadding(4).tickFormat(d => comboLabels[d]))
  .call(styleAxis, 13)
  .selectAll('text')
  .attr('class', 'wide')
  .attr('text-anchor', 'end')
  .attr('dy', '0.6em')
  .attr('transform', 'rotate(-30)')

svg.append('g').selectAll('rect').data(comboSessions).enter().append('rect')
  .attr('x', (d, i) => comboX(i))
  .attr('y', d => comboY(d))
  .attr('width', comboX.bandwidth())
  .attr('height', d => comboY(0) - comboY(d))
  .attr('fill', '#4caf50')
svg.append('line').attr('x1', 879).attr('x2', 1247).attr('y1', 847).attr('y2', 847).attr('stroke', '#222').attr('stroke-width', 1.5)
svg.append('path').datum(comboRates)
  .attr('fill', 'none').attr('stroke', '#1e88e5').attr('stroke-width', 2)
  .attr('d', d3.line().x((d, i) => comboCenter(i)).y(d => comboY2(d)))
svg.append('rect').attr('x', 879).attr('y', 585).attr('width', 26).attr('height', 13).attr('fill', '#4caf50')
label(svg, 910, 591, '세션수', { size: 13, weight: 500 }).attr('class', 'kr')
svg.append('rect').attr('x', 965).attr('y', 590).attr('width', 25).attr('height', 2.5).attr('fill', '#1e88e5')
label(svg, 995, 591, '세션 주요 이벤트 비율', { size: 13, weight: 500 }).attr('class', 'kr')

// ---- device table ----
card(1311, 560, 964, 337)
const devRows = d3.scaleBand().domain(d3.range(8)).range([594, 862.7])
svg.append('rect').attr('x', 1318).attr('y', 568).attr('width', 17).attr('height', 18).attr('rx', 2).attr('fill', '#fff').attr('stroke', '#333')
svg.append('rect').attr('x', 1322).attr('y', 576.5).attr('width', 9).attr('height', 1.6).attr('fill', '#333')
label(svg, 1343, 575, '세션 기본 채...', { size: 14, weight: 500 }).attr('class', 'kr')
label(svg, 1437, 575, '기기 카테고리', { size: 14, weight: 500 }).attr('class', 'kr')
label(svg, 1767, 574, '세션수', { size: 14, weight: 500, anchor: 'end' }).attr('class', 'kr')
label(svg, 2010, 574, '주요 이벤트', { size: 14, weight: 500, anchor: 'end' }).attr('class', 'kr')
label(svg, 2255, 574, '세션 주요 이벤트 비율', { size: 14.2, weight: 500, anchor: 'end' }).attr('class', 'kr')
column(svg, devRows, { labels: deviceGroups, textX: 1321, anchor: 'start' })
column(svg, devRows, { labels: deviceNames, textX: 1437, anchor: 'start' })
column(svg, devRows, { x: 1543, w: 242.5, values: deviceSessions, fill: shade('#4caf50', 27392), labels: deviceSessionLabels, textX: 1767 })
column(svg, devRows, { x: 1788, w: 242, values: deviceEvents, fill: shade('#1e88e5', 33570), labels: deviceEventLabels, textX: 2012 })
column(svg, devRows, { x: 2032.5, w: 242.5, values: deviceRates, fill: shade('#fff6c8', 45.23), labels: deviceRateLabels, textX: 2256 })
label(svg, 1321, 878, '총 합계', { size: 14, weight: 700, fill: '#222' }).attr('class', 'kr')
label(svg, 1767, 881, deviceTotals[0], { size: 14, weight: 700, fill: '#222', anchor: 'end' })
label(svg, 2010, 881, deviceTotals[1], { size: 14, weight: 700, fill: '#222', anchor: 'end' })
label(svg, 2255, 881, deviceTotals[2], { size: 14, weight: 700, fill: '#222', anchor: 'end' })

// ---- map ----
card(151, 971, 932, 373)
const projection = d3.geoMercator().scale(95).translate([364, 1150.7])
const toPath = d3.line().curve(d3.curveLinearClosed)
const map = svg.append('g').attr('clip-path', 'url(#mapClip)')
map.append('rect').attr('x', 151).attr('y', 971).attr('width', 462).attr('height', 327).attr('fill', '#c8c8c8')
map.append('g').selectAll('path').data(landOutlines).enter().append('path')
  .attr('d', d => toPath(d.map(projection))).attr('fill', '#f5f5f5')
map.append('g').selectAll('path').data(inlandSeas).enter().append('path')
  .attr('d', d => toPath(d.map(projection))).attr('fill', '#c8c8c8')
map.append('line').attr('x1', 151).attr('x2', 613).attr('y1', 1150.7).attr('y2', 1150.7).attr('stroke', '#e4e4e4').attr('stroke-width', 1).attr('stroke-dasharray', '6 2')
map.append('line').attr('x1', 364).attr('x2', 364).attr('y1', 971).attr('y2', 1298).attr('stroke', '#dcdcdc').attr('stroke-width', 1)
mapPlaceNames.forEach(p => label(map, p[1], p[2], p[0], { size: 12, anchor: 'middle', fill: '#999' }).attr('class', 'kr'))

const radius = d3.scaleSqrt().domain([0, 24524]).range([0, 32])
const usualEvents = 860
const mapCities = citiesAmericas.concat(citiesEurope, citiesAsiaMiddleEast, citiesAfricaOceania).map(c => [c[0], c[1], usualEvents]).concat(bigCities)
map.append('g').selectAll('circle').data(mapCities).enter().append('circle')
  .attr('cx', d => projection(d)[0])
  .attr('cy', d => projection(d)[1])
  .attr('r', d => radius(d[2]))
  .attr('fill', '#4caf50')
  .attr('fill-opacity', 0.6)

// map controls
svg.append('rect').attr('x', 556).attr('y', 983).attr('width', 46).attr('height', 46).attr('rx', 2).attr('fill', '#fff')
svg.append('path').attr('d', 'M569,1002 v-6 h6 M589,1002 v-6 h-6 M569,1010 v6 h6 M589,1010 v6 h-6')
  .attr('fill', 'none').attr('stroke', '#555').attr('stroke-width', 2.5)
svg.append('rect').attr('x', 556).attr('y', 1094).attr('width', 46).attr('height', 46).attr('rx', 2).attr('fill', '#fff')
svg.append('circle').attr('cx', 577.5).attr('cy', 1104).attr('r', 4.5).attr('fill', '#f9a825')
svg.append('path').attr('d', 'M571,1110 h13 l4,13 h-4 l-1,-4 v14 h-4 v-8 h-2 v8 h-4 v-14 l-1,4 h-4 z').attr('fill', '#f9a825')
svg.append('rect').attr('x', 556).attr('y', 1177).attr('width', 46).attr('height', 94).attr('rx', 2).attr('fill', '#fff')
svg.append('path').attr('d', 'M566,1200 h22 M577.5,1189 v22').attr('stroke', '#666').attr('stroke-width', 5)
svg.append('rect').attr('x', 560).attr('y', 1223).attr('width', 36).attr('height', 1).attr('fill', '#e6e6e6')
svg.append('rect').attr('x', 568).attr('y', 1246).attr('width', 20).attr('height', 4).attr('fill', '#bbb')
label(svg, 161, 1283, 'Google', { size: 23, weight: 700, fill: '#fff' }).style('font-family', 'Roboto').style('stroke', '#777').style('stroke-width', 0.8)
svg.append('rect').attr('x', 426).attr('y', 1283).attr('width', 187).attr('height', 15).attr('fill', 'rgba(240,240,240,0.85)')
label(svg, 448, 1290.5, '단축키', { size: 11, anchor: 'middle' }).attr('class', 'kr')
label(svg, 524, 1290.5, '지도 데이터 ©2025', { size: 11, anchor: 'middle' }).attr('class', 'kr')
label(svg, 596, 1290.5, '약관', { size: 11, anchor: 'middle' }).attr('class', 'kr')

// map legend
label(svg, 167, 1320, '주요 이벤트', { size: 14, weight: 700, fill: '#222' }).attr('class', 'kr')
label(svg, 253, 1320, '0', { size: 14 })
svg.append('circle').attr('cx', 276).attr('cy', 1320).attr('r', 1.5).attr('fill', '#777')
svg.append('circle').attr('cx', 296).attr('cy', 1320).attr('r', 7).attr('fill', '#777')
svg.append('circle').attr('cx', 327).attr('cy', 1320).attr('r', 11.5).attr('fill', '#777')
label(svg, 349, 1320, '24,524', { size: 14 })

// ---- region bars ----
const regX = d3.scaleBand().domain(regionNames).range([679.5, 1054]).paddingInner(0.2).paddingOuter(0.1)
const regY = d3.scaleLinear().domain([0, 50000]).range([1285.7, 1020])
svg.append('g').attr('transform', 'translate(666,0)')
  .call(d3.axisLeft(regY).tickValues(d3.range(0, 50001, 10000)).tickSize(0).tickPadding(0).tickFormat(d => d ? d / 10000 + '만' : '0'))
  .call(styleAxis)
svg.append('g').attr('transform', 'translate(0,1285.7)')
  .call(d3.axisBottom(regX).tickSize(0).tickPadding(9))
  .call(styleAxis)
  .selectAll('text')
  .attr('class', 'wide')
  .attr('dy', (d, i) => i % 2 ? '2.1em' : '0.9em')
svg.append('g').selectAll('rect').data(regionEvents).enter().append('rect')
  .attr('x', (d, i) => regX(regionNames[i]))
  .attr('y', d => regY(d))
  .attr('width', regX.bandwidth())
  .attr('height', d => regY(0) - regY(d))
  .attr('fill', '#4caf50')
svg.append('line').attr('x1', 679).attr('x2', 1054).attr('y1', 1285.7).attr('y2', 1285.7).attr('stroke', '#666').attr('stroke-width', 1.5)
regionLabels.forEach((s, i) => {
  label(svg, regX(regionNames[i]) + regX.bandwidth() / 2, regY(regionEvents[i]) + 9, s, { anchor: 'middle', size: 13, fill: '#fff' })
})
svg.append('rect').attr('x', 679).attr('y', 992).attr('width', 25).attr('height', 13).attr('fill', '#4caf50')
label(svg, 709, 999, '주요 이벤트', { size: 13, weight: 500 }).attr('class', 'kr')

// ---- event table ----
card(1102, 974, 658, 373)
const evRows = d3.scaleBand().domain(d3.range(10)).range([1007, 1342])
label(svg, 1112, 989, '이벤트 이름', { size: 14, weight: 500 }).attr('class', 'kr')
label(svg, 1482, 988, '이벤트 수', { size: 14, weight: 500, anchor: 'end' }).attr('class', 'kr')
label(svg, 1741, 988, '세션 주요 이벤트 비율', { size: 14.2, weight: 500, anchor: 'end' }).attr('class', 'kr')
column(svg, evRows, { labels: eventNames, textX: 1112, anchor: 'start', shift: -1 })
column(svg, evRows, { x: 1242, w: 259.5, values: eventCounts, fill: shade('#4caf50', 301758), labels: eventCountLabels, textX: 1482, shift: -1 })
column(svg, evRows, { x: 1504, w: 256, values: eventRates, fill: shade('#1e88e5', 100), labels: eventRateLabels, textX: 1741, shift: -1 })
svg.append('g').selectAll('line').data(d3.range(10)).enter().append('line')
  .attr('x1', 1102).attr('x2', 1760)
  .attr('y1', d => evRows(d)).attr('y2', d => evRows(d))
  .attr('stroke', '#dedede').attr('stroke-width', 1.5)
// footer row covers the clipped tenth row
svg.append('rect').attr('x', 1102).attr('y', 1314).attr('width', 658).attr('height', 32).attr('fill', '#fff')
svg.append('line').attr('x1', 1102).attr('x2', 1760).attr('y1', 1314).attr('y2', 1314).attr('stroke', '#dedede').attr('stroke-width', 2)
svg.append('line').attr('x1', 1242).attr('x2', 1242).attr('y1', 1007).attr('y2', 1346).attr('stroke', '#e0e0e0')
label(svg, 1112, 1329, '총 합계', { size: 14, weight: 700, fill: '#222' }).attr('class', 'kr')
label(svg, 1482, 1331, eventTotals[0], { size: 14, weight: 700, fill: '#222', anchor: 'end' })
label(svg, 1741, 1331, eventTotals[1], { size: 14, weight: 700, fill: '#222', anchor: 'end' })

// ---- pie ----
card(1788, 974, 487, 373)
const pie = d3.pie().sort(null)
const arc = d3.arc().innerRadius(0).outerRadius(131.5)
const labelArc = d3.arc().innerRadius(105).outerRadius(105)
const pieG = svg.append('g').attr('transform', 'translate(1938.5,1163.5)')
pieG.selectAll('path').data(pie(pieShares)).enter().append('path')
  .attr('d', arc)
  .attr('fill', (d, i) => pieColors[i])
  .attr('stroke', '#fff')
  .attr('stroke-width', 0.5)
pieG.selectAll('text').data(pie(pieShares)).enter().append('text')
  .attr('transform', d => `translate(${labelArc.centroid(d)})`)
  .attr('text-anchor', 'middle')
  .attr('dy', '0.35em')
  .attr('font-size', 12)
  .text((d, i) => pieLabels[i])

const legendY = d3.scalePoint().domain(pieLegend).range([1069.3, 1256.3])
const pieKey = svg.append('g')
pieKey.selectAll('circle').data(pieLegend).enter().append('circle')
  .attr('cx', 2098.6)
  .attr('cy', d => legendY(d))
  .attr('r', 6)
  .attr('fill', (d, i) => pieColors[i])
pieKey.selectAll('text').data(pieLegend).enter().append('text')
  .attr('class', 'wide')
  .attr('x', 2109.5)
  .attr('y', d => legendY(d))
  .attr('dy', '0.35em')
  .attr('font-size', 13.5)
  .text(d => d)

label(svg, 2304, 1365, 'Created by ChaeYeon Kang, Data Visualization Team / Design by jay Kim, Design Strategy Team', { size: 13, anchor: 'end', fill: '#777' })
  .attr('textLength', 548).attr('lengthAdjust', 'spacingAndGlyphs')
</script>
</body>
</html>
